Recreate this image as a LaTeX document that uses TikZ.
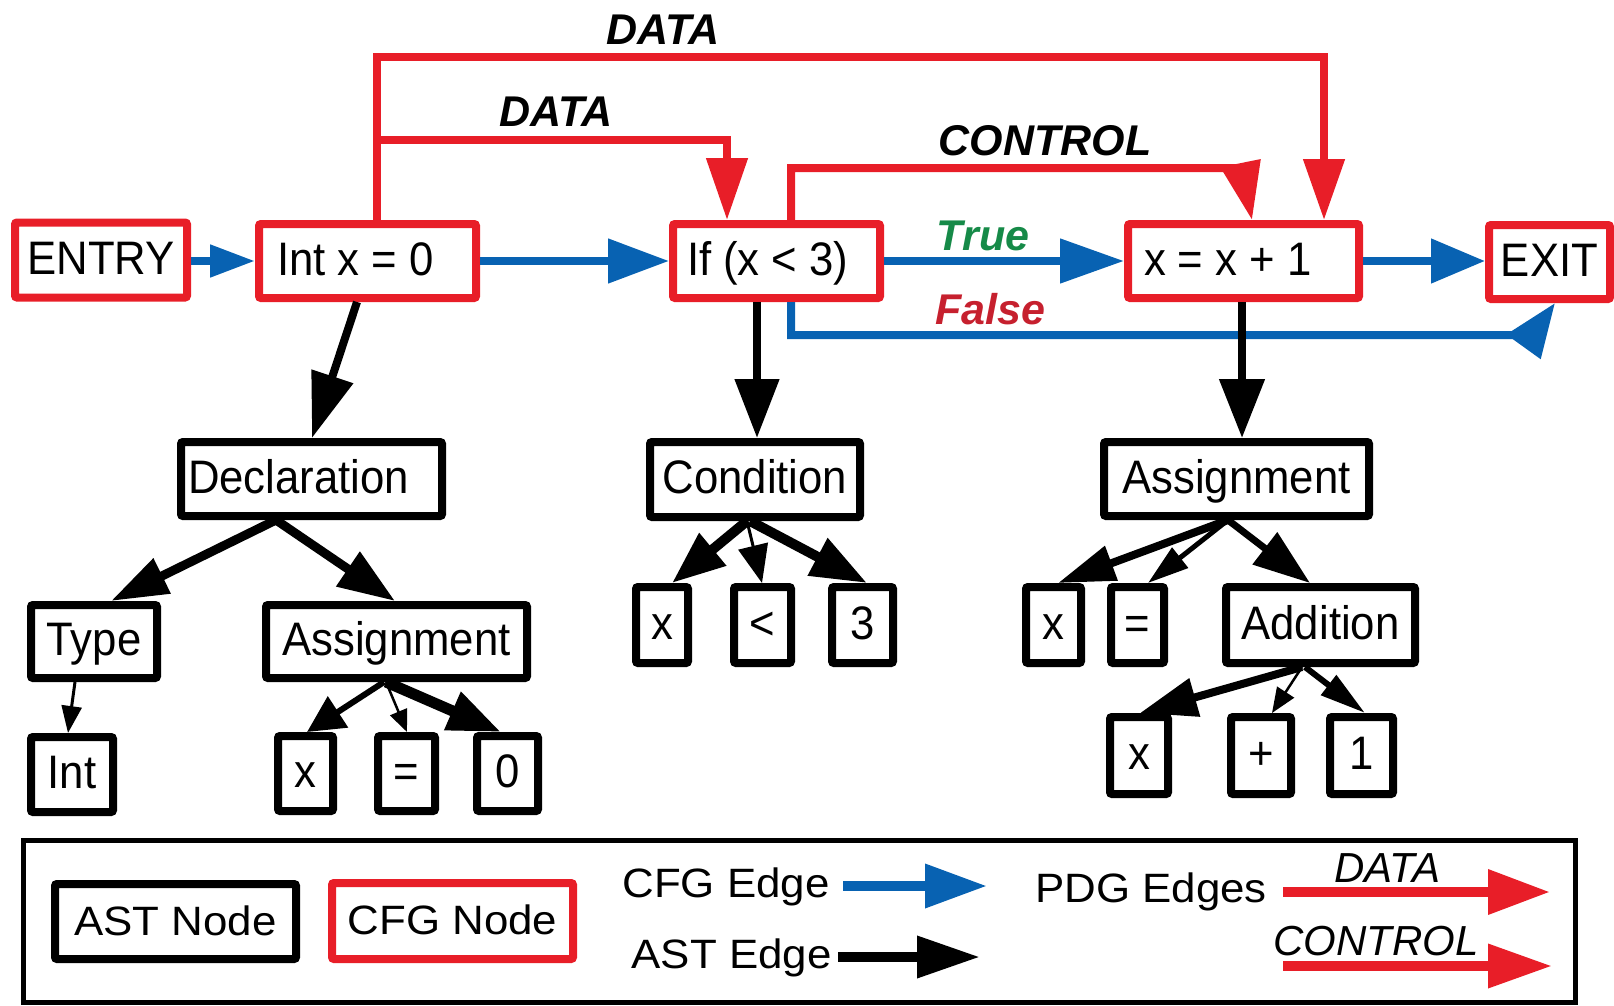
\documentclass[tikz,border=0pt]{standalone}
\usepackage{fontspec}
\setmainfont{Liberation Sans}
\newfontfamily\nodefont[FakeStretch=0.93]{Liberation Sans}
\newfontfamily\keyfont[FakeStretch=1.07]{Liberation Sans}
\usetikzlibrary{arrows.meta}

\definecolor{pdgred}{RGB}{232,30,40}
\definecolor{cfgblue}{RGB}{8,98,178}
\definecolor{truegreen}{RGB}{22,138,72}
\definecolor{falsered}{RGB}{198,32,46}

\newcommand\nodesize{\nodefont\fontsize{47}{54}\selectfont}
\newcommand\keysize{\keyfont\fontsize{41}{48}\selectfont}
\newcommand\lblsize{\fontsize{43}{50}\selectfont}
\newcommand\lefttext[2]{\makebox[#1][l]{#2}}

\begin{document}
\begin{tikzpicture}[x=1pt,y=-1pt,
  box/.style={line width=8pt, rounded corners=2pt, inner sep=0pt,
    text height=34pt, text depth=6pt, font=\nodesize, fill=white},
  cfgnode/.style={box, draw=pdgred},
  astnode/.style={box, draw=black},
  keybox/.style={text height=30pt, text depth=3pt, font=\keysize},
  plain/.style={inner sep=0pt, font=\keysize},
  edgelbl/.style={inner sep=0pt, font=\lblsize\bfseries\itshape},
  keylbl/.style={inner sep=0pt, font=\fontsize{42}{48}\selectfont\itshape},
  tipshape/.style 2 args={-{Triangle[length=#1,width=#2]}},
  cfgedge/.style={cfgblue, line width=8pt},
  pdgedge/.style={pdgred, line width=8pt},
  astedge/.style={black, line width=#1},
]
\useasboundingbox (0,0) rectangle (1614,1006);

% ---------- CFG nodes ----------
\node[cfgnode, minimum width=172pt, minimum height=75pt] (entry) at (101,260) {ENTRY};
\node[cfgnode, minimum width=217pt, minimum height=74pt] (int) at (367.5,261) {\lefttext{181pt}{Int x = 0}};
\node[cfgnode, minimum width=207pt, minimum height=74pt] (if) at (776.5,261) {\lefttext{179pt}{If (x < 3)}};
\node[cfgnode, minimum width=231pt, minimum height=74pt] (xx1) at (1243.5,261) {\lefttext{199pt}{x = x + 1}};
\node[cfgnode, minimum width=121pt, minimum height=74pt] (exit) at (1549.5,262) {EXIT};

% ---------- AST nodes ----------
\node[astnode, minimum width=261pt, minimum height=74pt] (decl) at (311.5,479) {\lefttext{247pt}{Declaration}};
\node[astnode, minimum width=210pt, minimum height=75pt] (cond) at (755,479.5) {Condition};
\node[astnode, minimum width=265pt, minimum height=74pt] (asgr) at (1236.5,479) {Assignment};

\node[astnode, minimum width=126pt, minimum height=73pt] (type) at (94,641.5) {Type};
\node[astnode, minimum width=261pt, minimum height=73pt] (asgl) at (396.5,641.5) {Assignment};
\node[astnode, minimum width=82pt, minimum height=75pt] (intl) at (72,774.5) {Int};
\node[astnode, minimum width=55pt, minimum height=75pt] (lx) at (305.5,773.5) {x};
\node[astnode, minimum width=57pt, minimum height=75pt] (leq) at (406.5,773.5) {=};
\node[astnode, minimum width=61pt, minimum height=75pt] (lzero) at (507.5,773.5) {0};

\node[astnode, minimum width=52pt, minimum height=76pt] (cx) at (662,625) {x};
\node[astnode, minimum width=57pt, minimum height=76pt] (clt) at (762.5,625) {<};
\node[astnode, minimum width=61pt, minimum height=76pt] (cthree) at (862.5,625) {3};

\node[astnode, minimum width=55pt, minimum height=76pt] (rx) at (1053.5,625) {x};
\node[astnode, minimum width=53pt, minimum height=76pt] (req) at (1137.5,625) {=};
\node[astnode, minimum width=189pt, minimum height=76pt] (add) at (1320.5,625) {Addition};
\node[astnode, minimum width=58pt, minimum height=77pt] (bx) at (1139,755.5) {x};
\node[astnode, minimum width=60pt, minimum height=77pt] (bplus) at (1261,755.5) {+};
\node[astnode, minimum width=63pt, minimum height=77pt] (bone) at (1361.5,755.5) {1};

% ---------- CFG edges ----------
\draw[cfgedge, tipshape={45pt}{31pt}] (entry.east |- int.west) -- (int.west);
\draw[cfgedge, tipshape={61pt}{43pt}] (int.east) -- (if.west);
\draw[cfgedge, tipshape={64pt}{43pt}] (if.east) -- (xx1.west);
\draw[cfgedge, tipshape={54pt}{43pt}] (xx1.east) -- (xx1.east -| exit.west);
\coordinate (fbend) at (1532,335);
\draw[cfgedge, tipshape={54pt}{40pt}] ([xshift=14.5pt]if.south) |- (fbend) -- ([xshift=5.5pt]exit.south);

% ---------- PDG edges ----------
\coordinate (dtop) at (1324,57);
\coordinate (dmid) at (727,140.5);
\coordinate (cbend) at (1241.5,168);
\draw[pdgedge, tipshape={61pt}{40pt}] ([xshift=9.5pt]int.north) |- (dtop) -- ([xshift=80.5pt]xx1.north);
\draw[pdgedge, tipshape={62pt}{40pt}] ([xshift=9.5pt]int.north) |- (dmid) -- ([xshift=-49.5pt]if.north);
\draw[pdgedge, tipshape={58pt}{39pt}] ([xshift=14.5pt]if.north) |- (cbend) -- ([xshift=8.5pt]xx1.north);

% ---------- edge labels ----------
\node[edgelbl, anchor=base] (lbldataout) at (663,45) {DATA};
\node[edgelbl, anchor=base] (lbldatain) at (556,127) {DATA};
\node[edgelbl, anchor=base] (lblctrl) at (1045,155) {CONTROL};
\node[edgelbl, anchor=base, text=truegreen] (lbltrue) at (983,250) {True};
\node[edgelbl, anchor=base, text=falsered] (lblfalse) at (990,324) {False};

% ---------- AST edges ----------
\draw[astedge=8pt, tipshape={65pt}{42pt}] ([xshift=-10.5pt]int.south) -- ([xshift=0.5pt]decl.north);
\draw[astedge=8pt, tipshape={59pt}{43pt}] ([xshift=-19.5pt]if.south) -- ([xshift=2pt]cond.north);
\draw[astedge=8pt, tipshape={59pt}{44pt}] ([xshift=-1.5pt]xx1.south) -- ([xshift=5.5pt]asgr.north);

\draw[astedge=9pt, tipshape={57pt}{37pt}] ([xshift=-35.5pt]decl.south) -- ([xshift=17pt]type.north);
\draw[astedge=9pt, tipshape={57pt}{40pt}] ([xshift=-35.5pt]decl.south) -- ([xshift=-1.5pt]asgl.north);
\draw[astedge=3pt, tipshape={27pt}{20pt}] ([xshift=-19pt]type.south) -- ([xshift=-4pt]intl.north);
\draw[astedge=6pt, tipshape={37pt}{36pt}] ([xshift=-12.5pt]asgl.south) -- ([xshift=1.5pt]lx.north);
\draw[astedge=2.5pt, tipshape={22pt}{18pt}] ([xshift=-10.5pt]asgl.south) -- ([xshift=0.5pt]leq.north);
\draw[astedge=11pt, tipshape={53pt}{39pt}] ([xshift=-10.5pt]asgl.south) -- ([xshift=-6.5pt]lzero.north);

\draw[astedge=10pt, tipshape={53pt}{40pt}] ([xshift=-8pt]cond.south) -- ([xshift=10pt]cx.north);
\draw[astedge=3pt, tipshape={38pt}{30pt}] ([xshift=-8pt]cond.south) -- ([xshift=-0.5pt]clt.north);
\draw[astedge=10pt, tipshape={56pt}{40pt}] ([xshift=-5pt]cond.south) -- ([xshift=4.5pt]cthree.north);

\draw[astedge=8pt, tipshape={57pt}{35pt}] ([xshift=-8.5pt]asgr.south) -- ([xshift=4.5pt]rx.north);
\draw[astedge=5pt, tipshape={41pt}{25pt}] ([xshift=-8.5pt]asgr.south) -- ([xshift=10.5pt]req.north);
\draw[astedge=7pt, tipshape={57pt}{39pt}] ([xshift=-8.5pt]asgr.south) -- ([xshift=-10.5pt]add.north);

\draw[astedge=8pt, tipshape={57pt}{38pt}] ([xshift=-18.5pt]add.south) -- ([xshift=1pt]bx.north);
\draw[astedge=2.5pt, tipshape={25pt}{20pt}] ([xshift=-18.5pt]add.south) -- ([xshift=11pt]bplus.north);
\draw[astedge=6pt, tipshape={46pt}{24pt}] ([xshift=-15.5pt]add.south) -- ([xshift=3.5pt]bone.north);

% ---------- legend ----------
\draw[line width=5pt] (23,840) rectangle (1575,1002);
\node[astnode, keybox, minimum width=241pt, minimum height=75pt] (astkey) at (175.5,921.5) {AST Node};
\node[cfgnode, keybox, minimum width=241pt, minimum height=76pt] (cfgkey) at (452.5,921) {CFG Node};
\node[plain, anchor=base] (cfgedgetxt) at (726,897) {CFG Edge};
\node[plain, anchor=base] (astedgetxt) at (731.5,968) {AST Edge};
\node[plain, anchor=base] (pdgtxt) at (1151,902) {PDG Edges};
\node[keylbl, anchor=base] (datakey) at (1387.5,882) {DATA};
\node[keylbl, anchor=base] (ctrlkey) at (1376,955) {CONTROL};

\coordinate (cfgA) at (843,886);  \coordinate (cfgB) at (987,886);
\coordinate (astA) at (838,957);  \coordinate (astB) at (980,957);
\coordinate (dataA) at (1283,892); \coordinate (dataB) at (1550,892);
\coordinate (ctrlA) at (1283,966); \coordinate (ctrlB) at (1552,966);
\draw[cfgblue, line width=10pt, tipshape={62pt}{42pt}] (cfgA) -- (cfgB);
\draw[black, line width=10pt, tipshape={63pt}{40pt}] (astA) -- (astB);
\draw[pdgred, line width=10pt, tipshape={62pt}{43pt}] (dataA) -- (dataB);
\draw[pdgred, line width=10pt, tipshape={64pt}{42pt}] (ctrlA) -- (ctrlB);
\end{tikzpicture}
\end{document}
